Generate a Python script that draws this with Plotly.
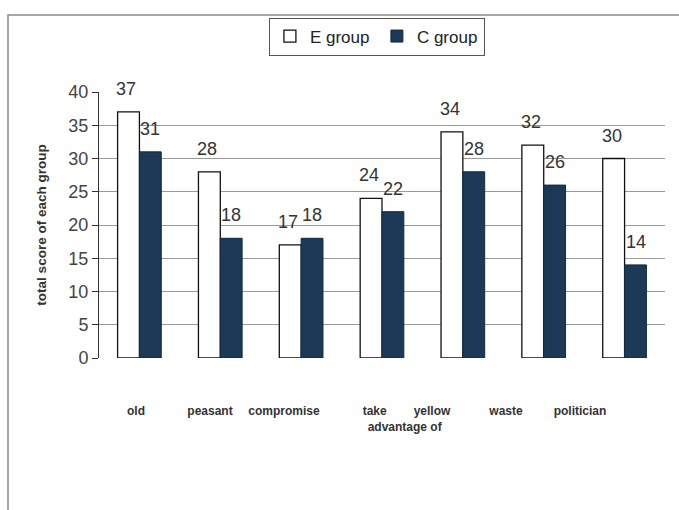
import plotly.graph_objects as go

# Scores per word for the two groups
categories = ["old", "peasant", "compromise", "take advantage of", "yellow", "waste", "politician"]
e_group = [37, 28, 17, 24, 34, 32, 30]
c_group = [31, 18, 18, 22, 28, 26, 14]

# Category captions printed beneath the chart
tick_labels = [
    "<b>old</b>",
    "<b>peasant</b>",
    "<b>compromise</b>",
    "<b>" + "\u00a0" * 10 + "take<br>" + "\u00a0" * 28 + "advantage of</b>",
    "<b>yellow</b>",
    "<b>waste</b>",
    "<b>politician</b>",
]
y_ticks = [0, 5, 10, 15, 20, 25, 30, 35, 40]

navy = "#1c3a57"
text_col = "#333333"

fig = go.Figure()

# Invisible helper trace on the caption axis (drawn first, underneath the bars)
fig.add_trace(go.Scatter(x=[0], y=[0], xaxis="x", yaxis="y", mode="markers",
                         marker=dict(opacity=0), showlegend=False, hoverinfo="skip"))

fig.add_trace(go.Bar(
    name="E group", x=categories, y=e_group, xaxis="x2", yaxis="y",
    marker=dict(color="white", line=dict(color="#111111", width=1.3)),
))
fig.add_trace(go.Bar(
    name="C group", x=categories, y=c_group, xaxis="x2", yaxis="y",
    marker=dict(color=navy, line=dict(color="#15283c", width=1)),
))

# Value labels floating above each bar
for i, cat in enumerate(categories):
    fig.add_annotation(x=cat, y=e_group[i], xref="x2", yref="y", text=str(e_group[i]),
                       showarrow=False, xshift=-13, yshift=23,
                       font=dict(size=18, color=text_col))
    fig.add_annotation(x=cat, y=c_group[i], xref="x2", yref="y", text=str(c_group[i]),
                       showarrow=False, xshift=11, yshift=23,
                       font=dict(size=18, color=text_col))

# Outer frame around the chart
fig.add_shape(type="rect", xref="paper", yref="paper",
              x0=-91 / 566, x1=700 / 566, y0=-600 / 266, y1=1 + 77 / 266,
              line=dict(color="#8a8a8a", width=1.5), fillcolor="rgba(0,0,0,0)")

fig.update_layout(
    width=679, height=510,
    margin=dict(l=99, r=14, t=92, b=152),
    paper_bgcolor="white", plot_bgcolor="rgba(0,0,0,0)",
    barmode="group", bargap=0.46, bargroupgap=0,
    font=dict(family="Arial, Liberation Sans, sans-serif", color=text_col),
    showlegend=True,
    legend=dict(
        orientation="h", x=0.491, xanchor="center", y=1.28, yanchor="top",
        bordercolor="#555555", borderwidth=1, bgcolor="white",
        font=dict(size=17, color="#222222"),
        itemwidth=30, entrywidth=62, tracegroupgap=0,
    ),
    # Caption axis spans a narrower band than the bars
    xaxis=dict(
        domain=[0, 518 / 566], range=[-0.5, 6.5],
        tickmode="array", tickvals=list(range(len(tick_labels))), ticktext=tick_labels,
        showgrid=False, showline=False, ticks="", zeroline=False,
        tickangle=0, automargin=False,
        tickfont=dict(size=12, color="#333333"),
        ticklabelstandoff=44,
    ),
    # Bar axis over the full plot width
    xaxis2=dict(anchor="y", domain=[0, 1], showticklabels=False, showgrid=False,
                showline=False, ticks="", zeroline=False, automargin=False),
    yaxis=dict(
        range=[0, 40], tickvals=y_ticks, showgrid=True, gridcolor="#9a9a9a", gridwidth=1,
        zeroline=False, showline=True, linecolor="#333333", linewidth=1,
        ticks="outside", ticklen=6, tickcolor="#333333", automargin=False,
        tickfont=dict(size=18, color="#444444"),
        title=dict(text="<b>total score of each group</b>", font=dict(size=13.5, color="#333333"),
                   standoff=18),
    ),
)

fig.write_html("out.html")
